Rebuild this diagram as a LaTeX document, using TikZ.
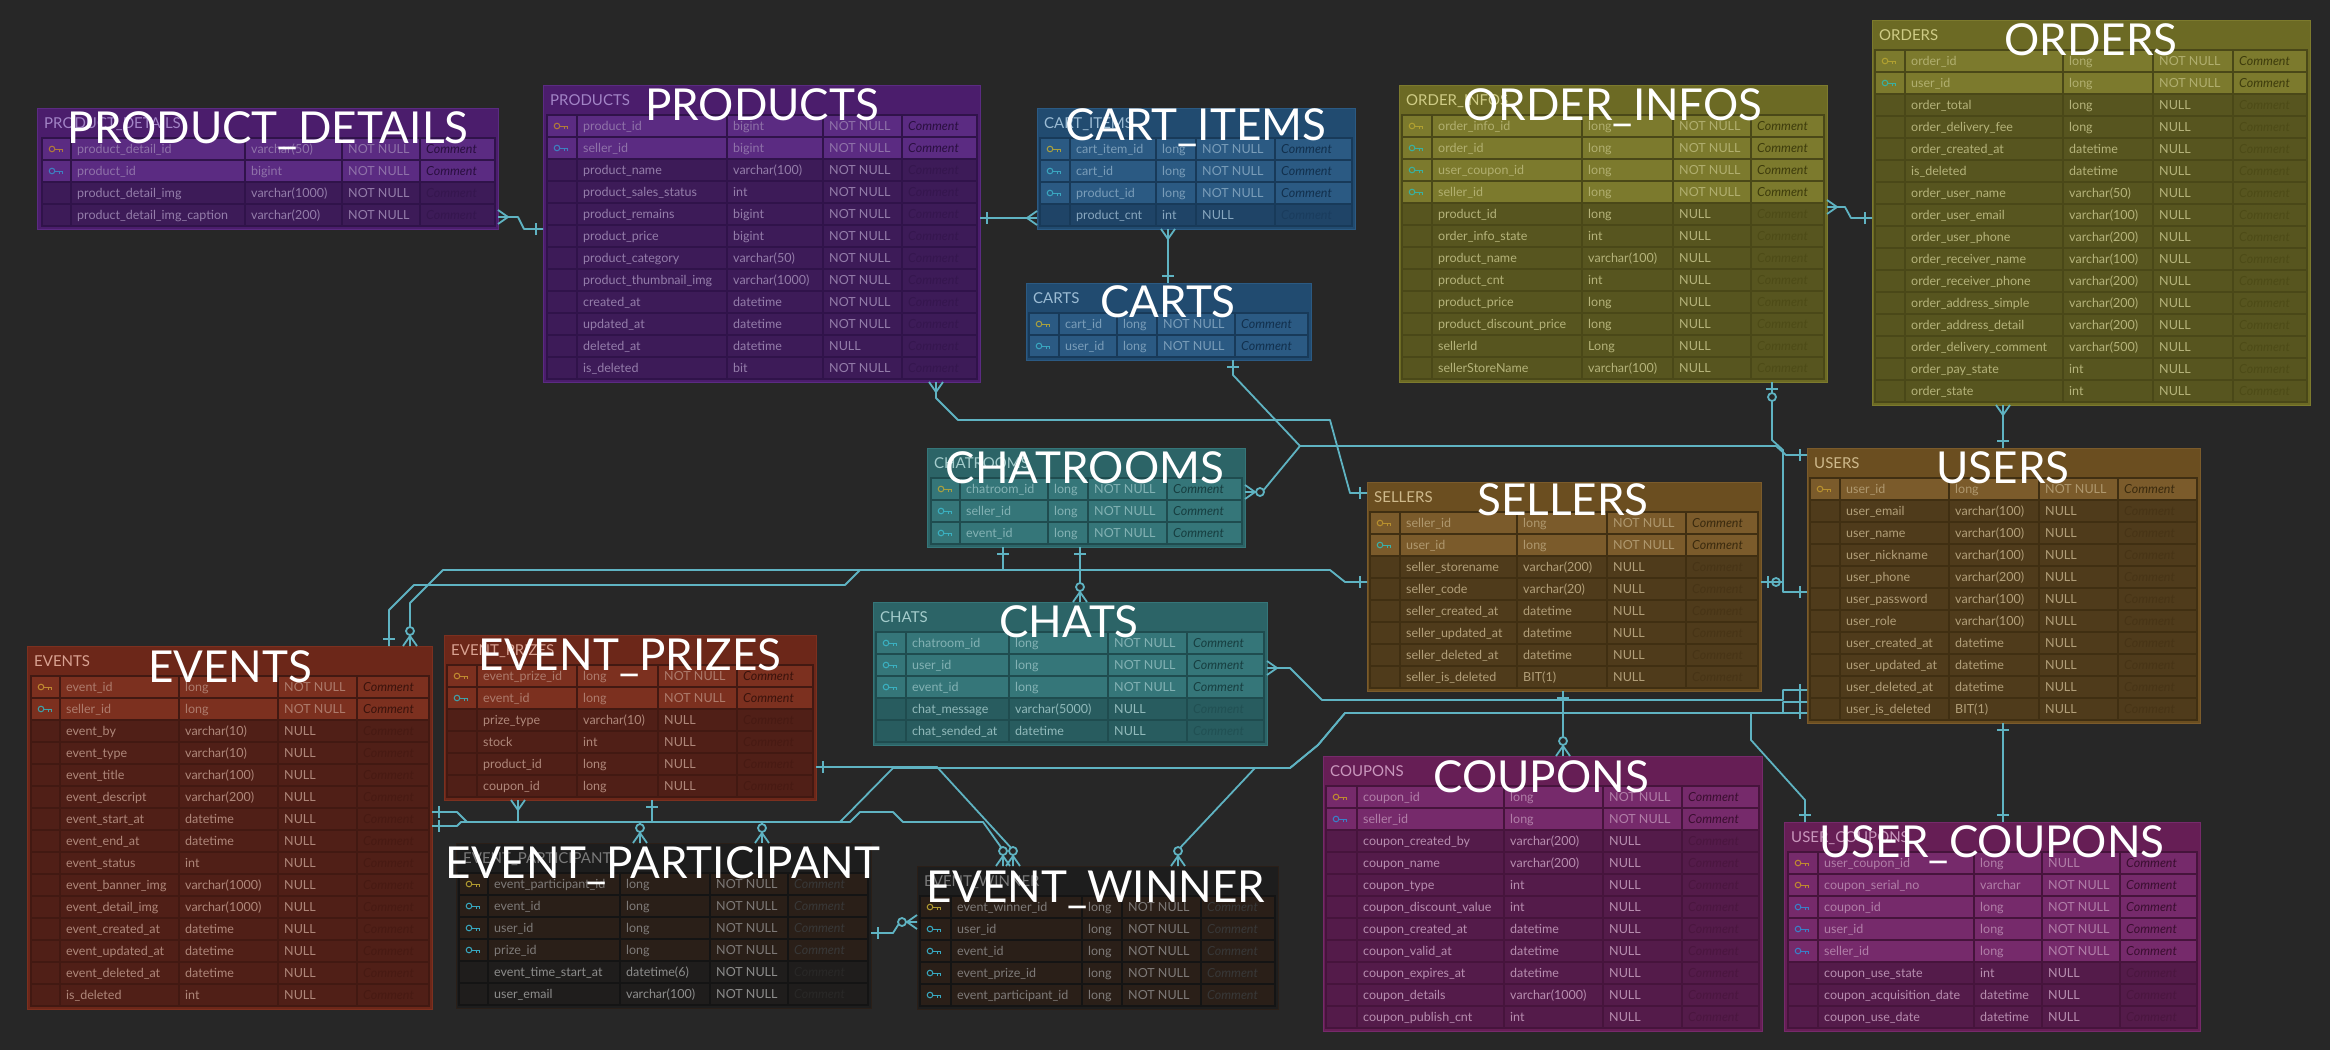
\documentclass[tikz,border=0pt]{standalone}
\usepackage{fontspec}
\setmainfont{Lato}
\usetikzlibrary{calc}
\definecolor{bg}{HTML}{272727}
\definecolor{lnkc}{HTML}{5FB3C2}
\tikzset{
  lnk/.style={draw=lnkc, line width=1.8pt, line join=round},
  tblnode/.style={rectangle, anchor=north west, inner sep=0pt, outer sep=0pt, line width=1pt},
  hdrtxt/.style={anchor=base west, inner sep=0pt, font=\fontsize{15}{17}\selectfont},
  rowtxt/.style={anchor=base west, inner sep=0pt, font=\fontsize{12.5}{14}\selectfont},
  cmttxt/.style={anchor=base west, inner sep=0pt, font=\fontsize{12.5}{14}\selectfont\itshape},
  bigtitle/.style={anchor=base, inner sep=0pt, text=white, font=\fontsize{44}{50}\selectfont},
}
\pgfkeys{/erd/.cd, x/.store in=\Ex, y/.store in=\Ey, cols/.store in=\Ecols, n/.store in=\En,
  pk/.store in=\Epk, keys/.store in=\Ekeys, theme/.store in=\Eth}
\def\erdparsecols#1/#2/#3/#4/#5/#6\relax{\def\erdA{#1}\def\erdB{#2}\def\erdC{#3}\def\erdD{#4}\def\erdE{#5}\def\erdF{#6}}
\newcommand\erdsetth[9]{\definecolor{Thd}{HTML}{#1}\definecolor{Tkey}{HTML}{#2}\definecolor{Trow}{HTML}{#3}%
  \definecolor{Tgrid}{HTML}{#4}\definecolor{Ttxt}{HTML}{#5}\definecolor{Thtxt}{HTML}{#6}\definecolor{Tcmt}{HTML}{#7}%
  \definecolor{Tpk}{HTML}{#8}\definecolor{Tfk}{HTML}{#9}}
\newcommand\erdthemepurple{\erdsetth{4B1D6C}{5B2B82}{3D1B58}{30134A}{A793BC}{A284C6}{2A0F40}{B07A3A}{3E7FC0}}
\newcommand\erdthemeblue{\erdsetth{214B70}{2B5A83}{1F4467}{183A59}{9FBCD2}{9CBCD4}{12304D}{A8A040}{3AA6C0}}
\newcommand\erdthemeteal{\erdsetth{2C6467}{357679}{285C5F}{1F4C4F}{A8CFCF}{A4CCCC}{173E40}{A8A040}{3AB0C0}}
\newcommand\erdthemeolive{\erdsetth{6C6A24}{7C7A2D}{57551F}{4A4818}{CAC88E}{CFCC86}{3E3C0C}{B0A030}{3AB0A0}}
\newcommand\erdthemegold{\erdsetth{6B4E20}{7B5B2B}{4F3B1B}{402F12}{C8B58E}{CEB98C}{3A2A0E}{B8902E}{3AB0A8}}
\newcommand\erdthemered{\erdsetth{6C2719}{7C301F}{501F17}{421912}{C49E90}{D9A292}{3A130C}{C08A30}{40A0A8}}
\newcommand\erdthemedark{\erdsetth{1D1D1D}{2A1F18}{1F1D1C}{141414}{A5A5A5}{7A7A7A}{383838}{B09A30}{38A8C0}}
\newcommand\erdthememagenta{\erdsetth{661E55}{762A6B}{541B4A}{46143C}{CDA6C5}{C997BD}{3A0E30}{C08A30}{3A80C8}}
\newcommand\keyicon[3]{%
  \draw[#3, line width=1pt] (#1+10,#2+11) circle[radius=2.8pt];
  \draw[#3, line width=1pt] (#1+13,#2+11) -- (#1+20,#2+11) (#1+17,#2+11) -- (#1+17,#2+14) (#1+20,#2+11) -- (#1+20,#2+14);}
\newcommand\erdtable[4]{%
  \pgfkeys{/erd/.cd,#3}%
  \csname erdtheme\Eth\endcsname
  \expandafter\erdparsecols\Ecols\relax
  \pgfmathsetmacro\Eh{30+22*\En+3}%
  \pgfmathsetmacro\Ew{\erdF+3-\Ex}%
  \node[tblnode, fill=Thd, draw=Tkey, minimum width=\Ew pt, minimum height=\Eh pt] (#1) at (\Ex,\Ey) {};
  \node[hdrtxt, text=Thtxt] (#1-hdr) at (\Ex+7,\Ey+20) {#2};
  \foreach \Rn/\Rt/\Ru [count=\Ri] in {#4} {%
    \pgfmathsetmacro\Ry{\Ey+30+22*(\Ri-1)}%
    \ifnum\Ri>\Ekeys\relax \colorlet{Tcur}{Trow}\colorlet{Tctwo}{Tcmt!40!Trow}\colorlet{Ttx}{Ttxt!82!Trow}\else \colorlet{Tcur}{Tkey}\colorlet{Tctwo}{Tcmt}\colorlet{Ttx}{Ttxt!68!Tkey}\fi
    \fill[Tcur] (\erdA,\Ry) rectangle (\erdF,\Ry+22);
    \draw[Tgrid, line width=1.5pt] (\erdA,\Ry) rectangle (\erdF,\Ry+22)
      (\erdB,\Ry) -- (\erdB,\Ry+22) (\erdC,\Ry) -- (\erdC,\Ry+22)
      (\erdD,\Ry) -- (\erdD,\Ry+22) (\erdE,\Ry) -- (\erdE,\Ry+22);
    \node[rowtxt, text=Ttx] (#1-n\Ri) at (\erdB+6,\Ry+15.5) {\Rn};
    \node[rowtxt, text=Ttx] (#1-t\Ri) at (\erdC+6,\Ry+15.5) {\Rt};
    \node[rowtxt, text=Ttx] (#1-u\Ri) at (\erdD+6,\Ry+15.5) {\Ru};
    \node[cmttxt, text=Tctwo] (#1-c\Ri) at (\erdE+6,\Ry+15.5) {Comment};
    \ifnum\Ri>\Ekeys\relax\else\ifnum\Ri>\Epk\relax\keyicon{\erdA}{\Ry}{Tfk}\else\keyicon{\erdA}{\Ry}{Tpk}\fi\fi
  }%
}
\newcommand\mk[3]{\begin{scope}[shift={(#1)}, rotate=#2]\csname mk#3\endcsname\end{scope}}
\newcommand\mkone{\draw[lnk] (7,-6) -- (7,6);}
\newcommand\mkmany{\draw[lnk] (0,-7) -- (10,0) -- (0,7);}
\newcommand\mkzmany{\mkmany\draw[lnk, fill=bg] (15,0) circle[radius=4pt];}
\newcommand\mkzone{\draw[lnk] (7,-6) -- (7,6); \draw[lnk, fill=bg] (15,0) circle[radius=4pt];}
\begin{document}
\catcode`\_=12
\begin{tikzpicture}[x=1pt, y=-1pt]
\useasboundingbox (0,0) rectangle (2330,1050);
\fill[bg] (0,0) rectangle (2330,1050);

% ---------- tables ----------
\erdtable{pdetails}{PRODUCT_DETAILS}{x=37,y=108,cols=42/71/245/342/420/495,n=4,pk=1,keys=2,theme=purple}{%
product_detail_id/varchar(50)/NOT NULL, product_id/bigint/NOT NULL,
product_detail_img/varchar(1000)/NOT NULL, product_detail_img_caption/varchar(200)/NOT NULL}

\erdtable{products}{PRODUCTS}{x=543,y=85,cols=547/577/727/823/902/977,n=12,pk=1,keys=2,theme=purple}{%
product_id/bigint/NOT NULL, seller_id/bigint/NOT NULL, product_name/varchar(100)/NOT NULL,
product_sales_status/int/NOT NULL, product_remains/bigint/NOT NULL, product_price/bigint/NOT NULL,
product_category/varchar(50)/NOT NULL, product_thumbnail_img/varchar(1000)/NOT NULL,
created_at/datetime/NOT NULL, updated_at/datetime/NOT NULL, deleted_at/datetime/NULL, is_deleted/bit/NOT NULL}

\erdtable{cartitems}{CART_ITEMS}{x=1037,y=108,cols=1040/1070/1156/1196/1275/1352,n=4,pk=1,keys=3,theme=blue}{%
cart_item_id/long/NOT NULL, cart_id/long/NOT NULL, product_id/long/NOT NULL, product_cnt/int/NULL}

\erdtable{carts}{CARTS}{x=1026,y=283,cols=1029/1059/1117/1157/1235/1308,n=2,pk=1,keys=2,theme=blue}{%
cart_id/long/NOT NULL, user_id/long/NOT NULL}

\erdtable{orderinfos}{ORDER_INFOS}{x=1399,y=85,cols=1402/1432/1582/1673/1751/1824,n=12,pk=1,keys=4,theme=olive}{%
order_info_id/long/NOT NULL, order_id/long/NOT NULL, user_coupon_id/long/NOT NULL, seller_id/long/NOT NULL,
product_id/long/NULL, order_info_state/int/NULL, product_name/varchar(100)/NULL, product_cnt/int/NULL,
product_price/long/NULL, product_discount_price/long/NULL, sellerId/Long/NULL, sellerStoreName/varchar(100)/NULL}

\erdtable{orders}{ORDERS}{x=1872,y=20,cols=1875/1905/2063/2153/2233/2307,n=16,pk=1,keys=2,theme=olive}{%
order_id/long/NOT NULL, user_id/long/NOT NULL, order_total/long/NULL, order_delivery_fee/long/NULL,
order_created_at/datetime/NULL, is_deleted/datetime/NULL, order_user_name/varchar(50)/NULL,
order_user_email/varchar(100)/NULL, order_user_phone/varchar(200)/NULL, order_receiver_name/varchar(100)/NULL,
order_receiver_phone/varchar(200)/NULL, order_address_simple/varchar(200)/NULL,
order_address_detail/varchar(200)/NULL, order_delivery_comment/varchar(500)/NULL,
order_pay_state/int/NULL, order_state/int/NULL}

\erdtable{sellers}{SELLERS}{x=1367,y=482,cols=1370/1400/1517/1607/1686/1758,n=8,pk=1,keys=2,theme=gold}{%
seller_id/long/NOT NULL, user_id/long/NOT NULL, seller_storename/varchar(200)/NULL, seller_code/varchar(20)/NULL,
seller_created_at/datetime/NULL, seller_updated_at/datetime/NULL, seller_deleted_at/datetime/NULL,
seller_is_deleted/BIT(1)/NULL}

\erdtable{users}{USERS}{x=1807,y=448,cols=1810/1840/1949/2039/2118/2197,n=11,pk=1,keys=1,theme=gold}{%
user_id/long/NOT NULL, user_email/varchar(100)/NULL, user_name/varchar(100)/NULL, user_nickname/varchar(100)/NULL,
user_phone/varchar(200)/NULL, user_password/varchar(100)/NULL, user_role/varchar(100)/NULL,
user_created_at/datetime/NULL, user_updated_at/datetime/NULL, user_deleted_at/datetime/NULL,
user_is_deleted/BIT(1)/NULL}

\erdtable{chatrooms}{CHATROOMS}{x=927,y=448,cols=931/960/1048/1088/1167/1242,n=3,pk=1,keys=3,theme=teal}{%
chatroom_id/long/NOT NULL, seller_id/long/NOT NULL, event_id/long/NOT NULL}

\erdtable{chats}{CHATS}{x=873,y=602,cols=876/906/1009/1108/1187/1264,n=5,pk=0,keys=3,theme=teal}{%
chatroom_id/long/NOT NULL, user_id/long/NOT NULL, event_id/long/NOT NULL,
chat_message/varchar(5000)/NULL, chat_sended_at/datetime/NULL}

\erdtable{events}{EVENTS}{x=27,y=646,cols=31/60/179/278/357/429,n=15,pk=1,keys=2,theme=red}{%
event_id/long/NOT NULL, seller_id/long/NOT NULL, event_by/varchar(10)/NULL, event_type/varchar(10)/NULL,
event_title/varchar(100)/NULL, event_descript/varchar(200)/NULL, event_start_at/datetime/NULL,
event_end_at/datetime/NULL, event_status/int/NULL, event_banner_img/varchar(1000)/NULL,
event_detail_img/varchar(1000)/NULL, event_created_at/datetime/NULL, event_updated_at/datetime/NULL,
event_deleted_at/datetime/NULL, is_deleted/int/NULL}

\erdtable{eprizes}{EVENT_PRIZES}{x=444,y=635,cols=447/477/577/658/737/813,n=6,pk=1,keys=2,theme=red}{%
event_prize_id/long/NOT NULL, event_id/long/NOT NULL, prize_type/varchar(10)/NULL, stock/int/NULL,
product_id/long/NULL, coupon_id/long/NULL}

\erdtable{eparticipant}{EVENT_PARTICIPANT}{x=456,y=843,cols=459/488/620/710/788/868,n=6,pk=1,keys=4,theme=dark}{%
event_participant_id/long/NOT NULL, event_id/long/NOT NULL, user_id/long/NOT NULL, prize_id/long/NOT NULL,
event_time_start_at/datetime(6)/NOT NULL, user_email/varchar(100)/NOT NULL}

\erdtable{ewinner}{EVENT_WINNER}{x=917,y=866,cols=920/951/1082/1122/1201/1275,n=5,pk=1,keys=5,theme=dark}{%
event_winner_id/long/NOT NULL, user_id/long/NOT NULL, event_id/long/NOT NULL, event_prize_id/long/NOT NULL,
event_participant_id/long/NOT NULL}

\erdtable{coupons}{COUPONS}{x=1323,y=756,cols=1326/1357/1504/1603/1682/1759,n=11,pk=1,keys=2,theme=magenta}{%
coupon_id/long/NOT NULL, seller_id/long/NOT NULL, coupon_created_by/varchar(200)/NULL, coupon_name/varchar(200)/NULL,
coupon_type/int/NULL, coupon_discount_value/int/NULL, coupon_created_at/datetime/NULL, coupon_valid_at/datetime/NULL,
coupon_expires_at/datetime/NULL, coupon_details/varchar(1000)/NULL, coupon_publish_cnt/int/NULL}

\erdtable{ucoupons}{USER_COUPONS}{x=1784,y=822,cols=1788/1818/1974/2042/2120/2197,n=8,pk=2,keys=5,theme=magenta}{%
user_coupon_id/long/NULL, coupon_serial_no/varchar/NOT NULL, coupon_id/long/NOT NULL, user_id/long/NOT NULL,
seller_id/long/NOT NULL, coupon_use_state/int/NULL, coupon_acquisition_date/datetime/NULL, coupon_use_date/datetime/NULL}

% ---------- connectors ----------
\coordinate (m1) at (1300,446);
\coordinate (m2) at (1751,713);
\coordinate (m3) at (700,822);

\draw[lnk] (pdetails.east |- 0,217) -- (518,217) -- (524,229) -- (products.west |- 0,229);
\mk{pdetails.east |- 0,217}{0}{many} \mk{products.west |- 0,229}{180}{one}

\draw[lnk] (products.east |- 0,218) -- (cartitems.west |- 0,218);
\mk{products.east |- 0,218}{0}{one} \mk{cartitems.west |- 0,218}{180}{many}

\draw[lnk] (1168,0 |- cartitems.south) -- (1168,0 |- carts.north);
\mk{1168,0 |- cartitems.south}{270}{many} \mk{1168,0 |- carts.north}{90}{one}

\draw[lnk] (orderinfos.east |- 0,207) -- (1845,207) -- (1851,218) -- (orders.west |- 0,218);
\mk{orderinfos.east |- 0,207}{0}{many} \mk{orders.west |- 0,218}{180}{one}

\draw[lnk] (2003,0 |- orders.south) -- (2003,0 |- users.north);
\mk{2003,0 |- orders.south}{270}{many} \mk{2003,0 |- users.north}{90}{one}

\draw[lnk] (936,0 |- products.south) -- (936,398) -- (958,420) -- (1330,420) -- (1350,493) -- (sellers.west |- 0,493);
\mk{936,0 |- products.south}{270}{many} \mk{sellers.west |- 0,493}{180}{one}

\draw[lnk] (1233,0 |- carts.south) -- (1233,375) -- (m1) -- (1776,446) -- (1786,455) -- (users.west |- 0,455);
\mk{1233,0 |- carts.south}{270}{one} \mk{users.west |- 0,455}{180}{one}

\draw[lnk] (chatrooms.east |- 0,492) -- (1262,492) -- (m1);
\mk{chatrooms.east |- 0,492}{0}{zmany}

\draw[lnk] (1772,0 |- orderinfos.south) -- (1772,440) -- (1783,450) -- (1783,582) -- (sellers.east |- 0,582);
\mk{1772,0 |- orderinfos.south}{270}{zone} \mk{sellers.east |- 0,582}{0}{zone}

\draw[lnk] (sellers.east |- 0,582) -- (1783,582) -- (1783,592) -- (users.west |- 0,592);
\mk{users.west |- 0,592}{180}{one}

\draw[lnk] (chats.east |- 0,668) -- (1290,668) -- (1322,700) -- (1783,700) -- (1783,690) -- (users.west |- 0,690);
\mk{chats.east |- 0,668}{0}{many} \mk{users.west |- 0,690}{180}{one}

\draw[lnk] (1178,0 |- ewinner.north) -- (1178,850) -- (1255,768) -- (1290,768) -- (1318,745) -- (1345,713) -- (users.west |- 0,713);
\mk{1178,0 |- ewinner.north}{90}{zmany} \mk{users.west |- 0,713}{180}{one}

\draw[lnk] (640,0 |- eparticipant.north) -- (640,822) -- (840,822) -- (893,768) -- (1290,768) -- (1318,745) -- (1345,713) -- (1783,713) -- (1783,702) -- (users.west |- 0,702);
\mk{640,0 |- eparticipant.north}{90}{zmany} \mk{users.west |- 0,702}{180}{one}

\draw[lnk] (1805,0 |- ucoupons.north) -- (1805,800) -- (1751,740) -- (m2);
\mk{1805,0 |- ucoupons.north}{90}{one}

\draw[lnk] (2003,0 |- users.south) -- (2003,0 |- ucoupons.north);
\mk{2003,0 |- users.south}{270}{one} \mk{2003,0 |- ucoupons.north}{90}{one}

\draw[lnk] (1563,0 |- sellers.south) -- (1563,0 |- coupons.north);
\mk{1563,0 |- sellers.south}{270}{one} \mk{1563,0 |- coupons.north}{90}{zmany}

\draw[lnk] (1080,0 |- chatrooms.south) -- (1080,0 |- chats.north);
\mk{1080,0 |- chatrooms.south}{270}{one} \mk{1080,0 |- chats.north}{90}{zmany}

\draw[lnk] (410,0 |- events.north) -- (410,603) -- (443,570) -- (1003,570) -- (1003,0 |- chatrooms.south);
\mk{410,0 |- events.north}{90}{zmany} \mk{1003,0 |- chatrooms.south}{270}{one}

\draw[lnk] (389,0 |- events.north) -- (389,610) -- (414,585) -- (845,585) -- (860,570) -- (1330,570) -- (1345,582) -- (sellers.west |- 0,582);
\mk{389,0 |- events.north}{90}{one} \mk{sellers.west |- 0,582}{180}{one}

\draw[lnk] (events.east |- 0,812) -- (457,812) -- (467,822) -- (518,822) -- (518,0 |- eprizes.south);
\mk{events.east |- 0,812}{0}{one} \mk{518,0 |- eprizes.south}{270}{many}

\draw[lnk] (events.east |- 0,826) -- (457,826) -- (461,822) -- (m3);
\mk{events.east |- 0,826}{0}{one}

\draw[lnk] (652,0 |- eprizes.south) -- (652,822) -- (762,822) -- (762,0 |- eparticipant.north);
\mk{652,0 |- eprizes.south}{270}{one} \mk{762,0 |- eparticipant.north}{90}{zmany}

\draw[lnk] (1003,0 |- ewinner.north) -- (1003,850) -- (983,822) -- (903,822) -- (893,812) -- (860,812) -- (850,822) -- (m3);
\mk{1003,0 |- ewinner.north}{90}{zmany}

\draw[lnk] (eprizes.east |- 0,767) -- (937,767) -- (1013,850) -- (1013,0 |- ewinner.north);
\mk{eprizes.east |- 0,767}{0}{one} \mk{1013,0 |- ewinner.north}{90}{zmany}

\draw[lnk] (eparticipant.east |- 0,933) -- (893,933) -- (900,922) -- (ewinner.west |- 0,922);
\mk{eparticipant.east |- 0,933}{0}{one} \mk{ewinner.west |- 0,922}{180}{zmany}

% ---------- big titles ----------
\node[bigtitle] (t-pdetails) at (268,143) {PRODUCT_DETAILS};
\node[bigtitle] (t-products) at (762,120) {PRODUCTS};
\node[bigtitle] (t-cartitems) at (1196,140) {CART_ITEMS};
\node[bigtitle] (t-carts) at (1168,317) {CARTS};
\node[bigtitle] (t-orderinfos) at (1613,120) {ORDER_INFOS};
\node[bigtitle] (t-orders) at (2091,55) {ORDERS};
\node[bigtitle] (t-sellers) at (1563,515) {SELLERS};
\node[bigtitle] (t-users) at (2003,483) {USERS};
\node[bigtitle] (t-chatrooms) at (1085,483) {CHATROOMS};
\node[bigtitle] (t-chats) at (1069,637) {CHATS};
\node[bigtitle] (t-events) at (230,682) {EVENTS};
\node[bigtitle] (t-eprizes) at (630,670) {EVENT_PRIZES};
\node[bigtitle] (t-eparticipant) at (663,878) {EVENT_PARTICIPANT};
\node[bigtitle] (t-ewinner) at (1096,902) {EVENT_WINNER};
\node[bigtitle] (t-coupons) at (1541,792) {COUPONS};
\node[bigtitle] (t-ucoupons) at (1992,857) {USER_COUPONS};
\end{tikzpicture}
\end{document}
